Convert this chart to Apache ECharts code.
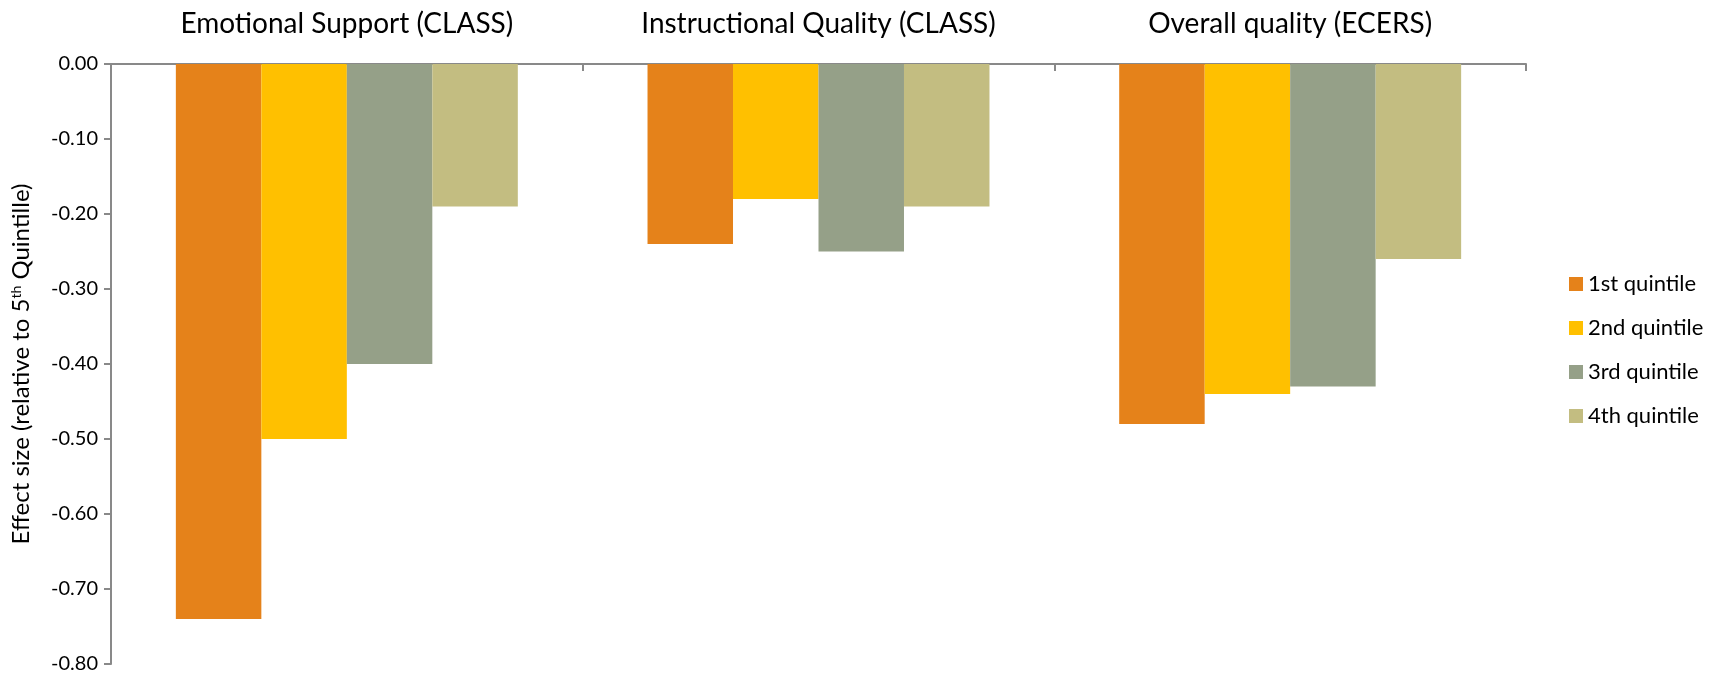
<!DOCTYPE html>
<html>
<head>
<meta charset="utf-8">
<script src="https://cdn.jsdelivr.net/npm/echarts@6/dist/echarts.min.js"></script>
<style>
  html, body { margin: 0; padding: 0; background: #fff; }
  #chart { width: 1715px; height: 676px; }
</style>
</head>
<body>
<div id="chart"></div>
<script>
// measures shown along the top
const categories = ['Emotional Support (CLASS)', 'Instructional Quality (CLASS)', 'Overall quality (ECERS)'];

// effect sizes, relative to 5th quintile
const quintile1 = [-0.74, -0.24, -0.48];
const quintile2 = [-0.50, -0.18, -0.44];
const quintile3 = [-0.40, -0.25, -0.43];
const quintile4 = [-0.19, -0.19, -0.26];

const seriesNames = ['1st quintile', '2nd quintile', '3rd quintile', '4th quintile'];
const seriesColors = ['#E5821A', '#FFC000', '#95A088', '#C3BD81'];

const yTicks = { min: -0.8, max: 0, interval: 0.1 };

const fontFamily = 'Lato, "Liberation Sans", sans-serif';
const axisGray = '#898989';

const chart = echarts.init(document.getElementById('chart'));

const seriesData = [quintile1, quintile2, quintile3, quintile4];

option = {
    animation: false,
    textStyle: { fontFamily: fontFamily, color: '#000' },
    grid: { left: 111, right: 189, top: 64, bottom: 12 },
    legend: {
        orient: 'vertical',
        left: 1564,
        top: 268,
        itemWidth: 14,
        itemHeight: 14,
        itemGap: 22,
        icon: 'rect',
        data: seriesNames,
        textStyle: { fontFamily: fontFamily, fontSize: 22, color: '#000', lineHeight: 22 }
    },
    xAxis: {
        type: 'category',
        position: 'top',
        data: categories,
        axisLine: { onZero: false, lineStyle: { color: axisGray, width: 2 } },
        axisTick: { show: true, inside: true, length: 7, lineStyle: { color: axisGray, width: 2 } },
        axisLabel: { fontSize: 28, color: '#000', margin: 26, interval: 0 },
        splitLine: { show: false }
    },
    yAxis: {
        type: 'value',
        min: yTicks.min,
        max: yTicks.max,
        interval: yTicks.interval,
        name: '{a|Effect size (relative to 5}{s|th}{a| Quintille)}',
        nameLocation: 'middle',
        nameGap: 78,
        nameTextStyle: {
            rich: {
                a: { fontFamily: fontFamily, fontSize: 24, color: '#000' },
                s: { fontFamily: fontFamily, fontSize: 14, color: '#000', verticalAlign: 'top' }
            }
        },
        axisLine: { show: true, lineStyle: { color: axisGray, width: 2 } },
        axisTick: { show: true, length: 7, lineStyle: { color: axisGray, width: 2 } },
        axisLabel: {
            fontSize: 20,
            color: '#000',
            margin: 13,
            formatter: v => v.toFixed(2)
        },
        splitLine: { show: false }
    },
    series: seriesNames.map((name, i) => ({
        name: name,
        type: 'bar',
        data: seriesData[i],
        barGap: '0%',
        barCategoryGap: '27.5%',
        itemStyle: { color: seriesColors[i] }
    }))
};

chart.setOption(option);
</script>
</body>
</html>
